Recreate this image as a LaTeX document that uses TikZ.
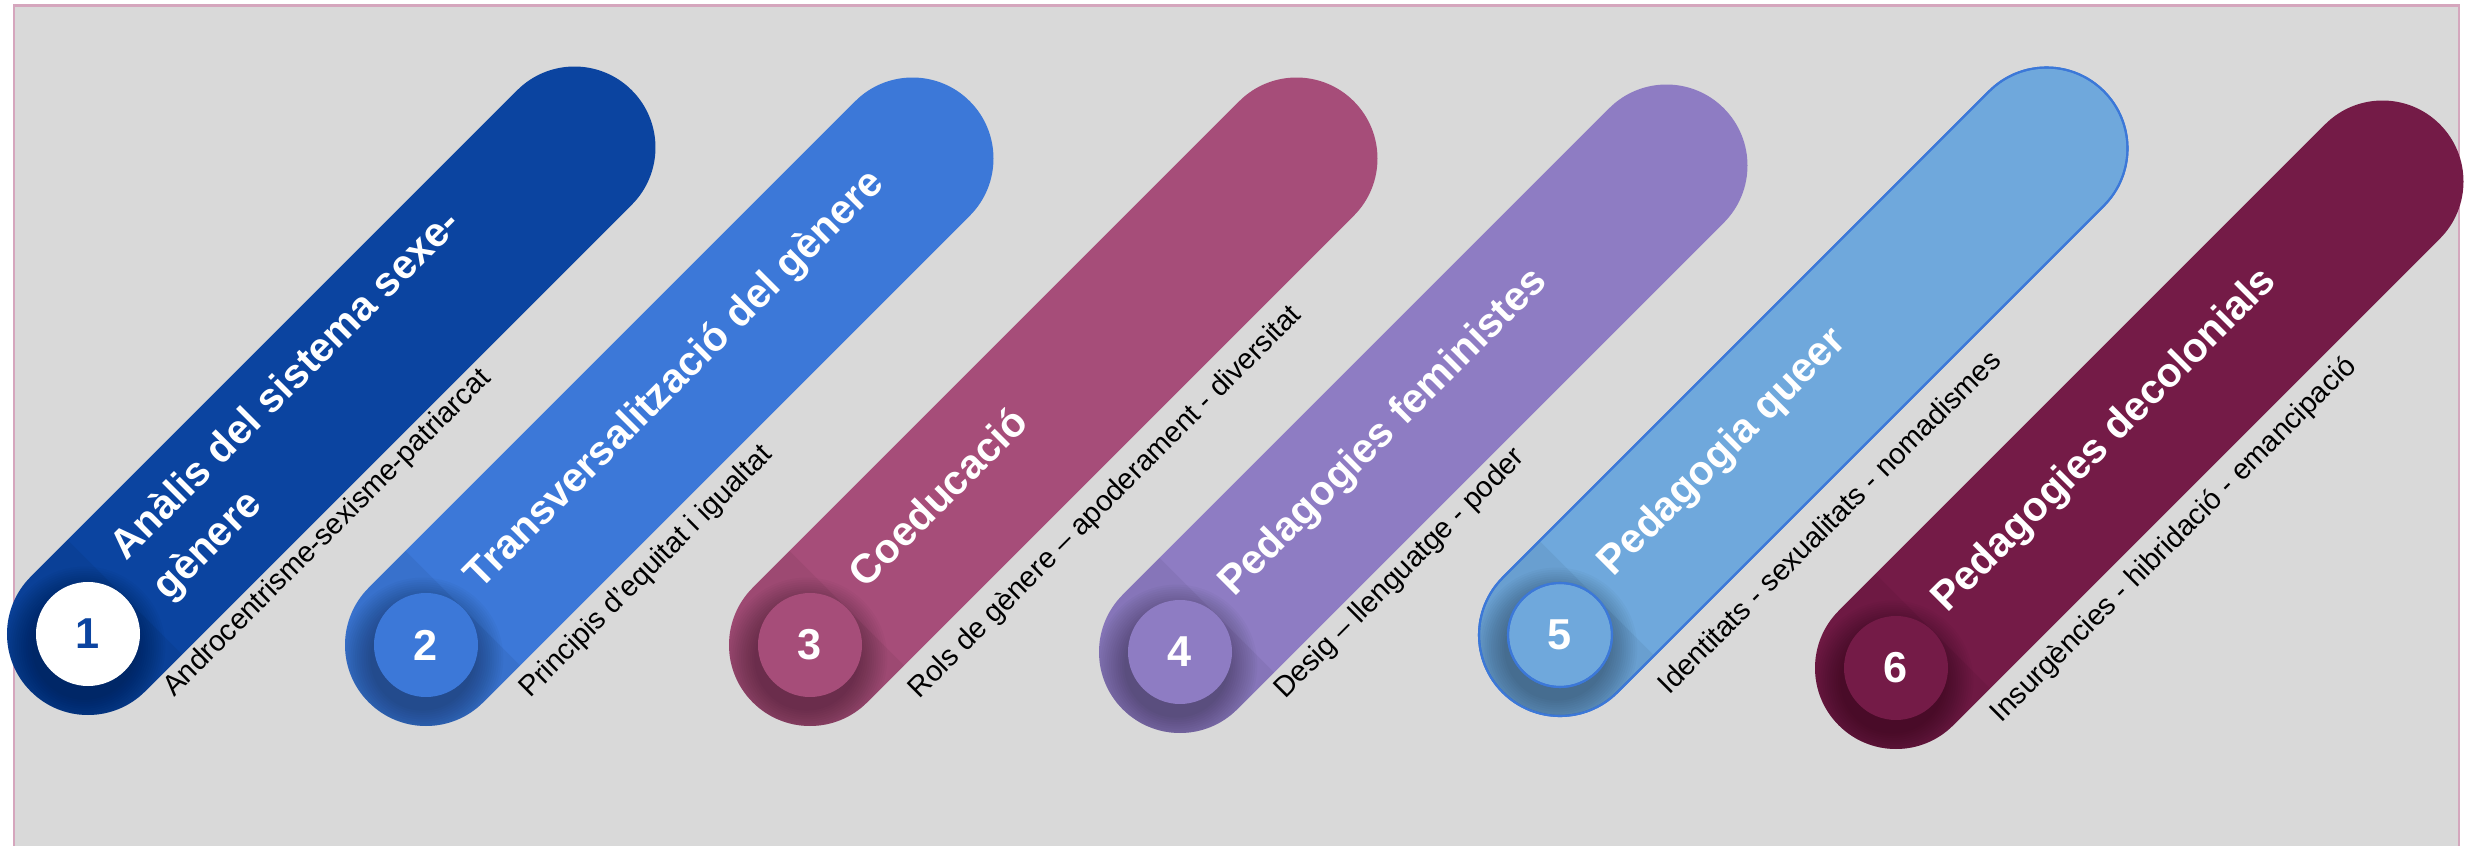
\documentclass[tikz,border=0pt]{standalone}
\usepackage{fontspec}
\setmainfont{Liberation Sans}
\definecolor{bg}{RGB}{217,217,217}
\definecolor{framec}{RGB}{213,166,189}
\definecolor{cA}{RGB}{11,68,160}
\definecolor{cB}{RGB}{60,120,216}
\definecolor{cC}{RGB}{166,77,121}
\definecolor{cD}{RGB}{142,124,195}
\definecolor{cE}{RGB}{111,168,220}
\definecolor{cF}{RGB}{116,27,71}
\tikzset{
  titletxt/.style={text=white, font=\bfseries\fontsize{11.67}{16.5}\selectfont, inner sep=0pt, anchor=base west, transform shape},
  subtxt/.style={text=black, font=\fontsize{8.25}{10}\selectfont, inner sep=0pt, anchor=base west, transform shape},
  numtxt/.style={font=\bfseries\fontsize{12.3}{14}\selectfont, inner sep=0pt},
  pillline/.style={draw=cB, line width=0.6pt},
}
\newcommand{\pillpath}{(0,-81) -- (688,-81) arc[start angle=-90, end angle=90, radius=81] -- (0,81) arc[start angle=90, end angle=270, radius=81] -- cycle}
% #1 pill colour, #2 circle colour, #3 extra draw options
\newcommand{\pillbody}[3]{%
  \fill[#1,#3] \pillpath;
  \begin{scope}
    \clip \pillpath;
    \fill[black, opacity=0.05] (-100,-100) rectangle (52,100);
    \foreach \k [evaluate=\k as \r using 50+2.2*\k] in {1,...,14}
      \fill[black, opacity=0.025] (-12,-7) circle[radius=\r];
  \end{scope}
  \ifx&#3&\else\draw[#3] \pillpath;\fi
  \fill[#2,#3] (0,0) circle[radius=52];
  \ifx&#3&\else\draw[#3] (0,0) circle[radius=52];\fi
}
\begin{document}
\begin{tikzpicture}[x=0.01cm, y=0.01cm]
\useasboundingbox (0,0) rectangle (2466,845);
\clip (0,0) rectangle (2466,845);
\filldraw[fill=bg, draw=framec, line width=0.7pt] (14,839.7) rectangle (2459,-20);

% 1
\begin{scope}[shift={(88,211)}, rotate=45]
  \pillbody{cA}{white}{}
  \node[numtxt, text=cA] (n1) at (0,0) {1};
  \node[titletxt] (t1a) at (78,24) {Anàlis del sistema sexe-};
  \node[titletxt] (t1b) at (79,-34) {gènere};
  \node[subtxt] (s1) at (15,-106) {Androcentrisme-sexisme-patriarcat};
\end{scope}

% 2
\begin{scope}[shift={(426,200)}, rotate=45]
  \pillbody{cB}{cB}{}
  \node[numtxt, text=white] (n2) at (0,0) {2};
  \node[titletxt] (t2) at (77,0) {Transversalització del gènere};
  \node[subtxt] (s2) at (35,-112) {Principis d’equitat i igualtat};
\end{scope}

% 3
\begin{scope}[shift={(810,200)}, rotate=45]
  \pillbody{cC}{cC}{}
  \node[numtxt, text=white] (n3) at (0,0) {3};
  \node[titletxt] (t3) at (78,0) {Coeducació};
  \node[subtxt] (s3) at (38,-116) {Rols de gènere – apoderament - diversitat};
\end{scope}

% 4
\begin{scope}[shift={(1180,193)}, rotate=45]
  \pillbody{cD}{cD}{}
  \node[numtxt, text=white] (n4) at (0,0) {4};
  \node[titletxt] (t4) at (76,0) {Pedagogies feministes};
  \node[subtxt] (s4) at (40,-108) {Desig – llenguatge - poder};
\end{scope}

% 5
\begin{scope}[shift={(1560,210)}, rotate=45]
  \pillbody{cE}{cE}{pillline}
  \node[numtxt, text=white] (n5) at (0,0) {5};
  \node[titletxt] (t5) at (78,3) {Pedagogia queer};
  \node[subtxt] (s5) at (34,-120) {Identitats - sexualitats - nomadismes};
\end{scope}

% 6
\begin{scope}[shift={(1896,177)}, rotate=45]
  \pillbody{cF}{cF}{}
  \node[numtxt, text=white] (n6) at (0,0) {6};
  \node[titletxt] (t6) at (74,2) {Pedagogies decolonials};
  \node[subtxt] (s6) at (35,-114) {Insurgències - hibridació - emancipació};
\end{scope}
\end{tikzpicture}
\end{document}
